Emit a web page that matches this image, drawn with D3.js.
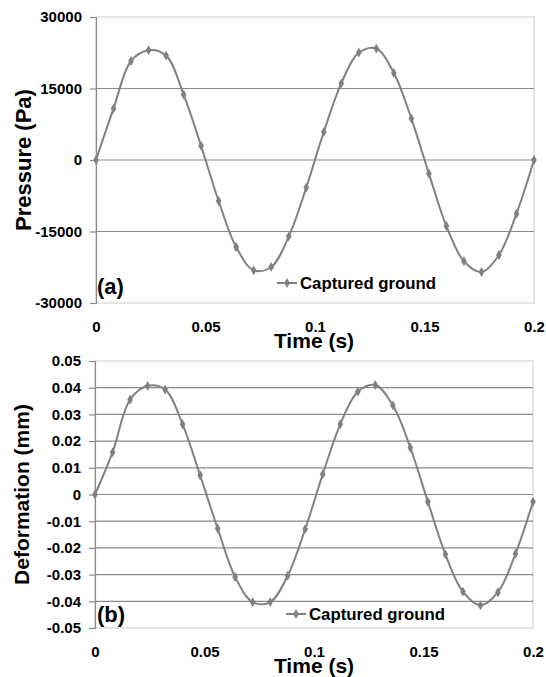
<!DOCTYPE html>
<html>
<head>
<meta charset="utf-8">
<script src="https://cdn.jsdelivr.net/npm/d3@7"></script>
<style>
  body { margin: 0; background: #fff; }
  text { font-family: "Liberation Sans", Arial, sans-serif; font-weight: bold; fill: #000; }
</style>
</head>
<body>
<div id="graph"></div>
<script>
// sample times (s), 26 points
var times = [0, 0.008, 0.016, 0.024, 0.032, 0.04, 0.048, 0.056, 0.064, 0.072, 0.08, 0.088, 0.096,
             0.104, 0.112, 0.12, 0.128, 0.136, 0.144, 0.152, 0.16, 0.168, 0.176, 0.184, 0.192, 0.2];

// (a) pressure in Pa
var pressure = [0, 10780, 20770, 23020, 21900, 13720, 2940, -8600, -18250, -23140, -22450, -16070, -5790,
                5870, 16090, 22530, 23370, 18250, 8690, -2850, -13850, -21250, -23500, -19930, -11250, 0];

// (b) deformation in mm
var deformation = [0, 0.0158, 0.0355, 0.0407, 0.0393, 0.0263, 0.0072, -0.0127, -0.0309, -0.0403, -0.0403, -0.0304, -0.0129,
                   0.0076, 0.0263, 0.0385, 0.0410, 0.0334, 0.0175, -0.0027, -0.0224, -0.0364, -0.0415, -0.0366, -0.0222, -0.0027];

var xTicks = [0, 0.05, 0.1, 0.15, 0.2];
var xTickLabels = ["0", "0.05", "0.1", "0.15", "0.2"];
var pressureTicks = [-30000, -15000, 0, 15000, 30000];
var deformTicks = [-0.05, -0.04, -0.03, -0.02, -0.01, 0, 0.01, 0.02, 0.03, 0.04, 0.05];
var deformTickLabels = ["-0.05", "-0.04", "-0.03", "-0.02", "-0.01", "0", "0.01", "0.02", "0.03", "0.04", "0.05"];
var legendName = "Captured ground";

var lineColor = "#808080";

var svg = d3.select("#graph")
    .append("svg")
    .attr("width", 546)
    .attr("height", 677);

function drawPanel(opt) {
    var x = d3.scaleLinear().domain([0, 0.2]).range([opt.left, opt.right]);
    var y = d3.scaleLinear().domain(opt.domain).range([opt.bottom, opt.top]);
    var g = svg.append("g");

    // plot frame (light)
    g.append("rect")
        .attr("x", opt.left).attr("y", opt.top)
        .attr("width", opt.right - opt.left).attr("height", opt.bottom - opt.top)
        .attr("fill", "none").attr("stroke", "#d4d4d4").attr("stroke-width", 1.2);

    // gridlines (inner ones only)
    var inner = opt.ticks.slice(1, -1);
    g.selectAll(".grid")
        .data(inner)
        .enter().append("line")
        .attr("x1", opt.left).attr("x2", opt.right)
        .attr("y1", function(d) { return y(d); })
        .attr("y2", function(d) { return y(d); })
        .attr("stroke", "#8a8a8a").attr("stroke-width", 1.2);

    // y axis
    var yAxis = g.append("g")
        .attr("transform", "translate(" + opt.left + ",0)")
        .call(d3.axisLeft(y).tickValues(opt.ticks).tickSize(6).tickPadding(8)
            .tickFormat(function(d, i) { return opt.tickLabels[i]; }));
    yAxis.select(".domain").attr("stroke", "#8a8a8a").attr("stroke-width", 1.2);
    yAxis.selectAll(".tick line").attr("stroke", "#8a8a8a").attr("stroke-width", 1.2);
    yAxis.selectAll("text").style("font-size", "15px").style("font-family", "'Liberation Sans', Arial, sans-serif").style("font-weight", "bold").attr("fill", "#000");

    // x axis labels
    var xAxis = g.append("g")
        .attr("transform", "translate(0," + opt.bottom + ")")
        .call(d3.axisBottom(x).tickValues(xTicks).tickSize(0).tickPadding(18)
            .tickFormat(function(d, i) { return xTickLabels[i]; }));
    xAxis.select(".domain").remove();
    xAxis.selectAll("text").style("font-size", "15px").style("font-family", "'Liberation Sans', Arial, sans-serif").style("font-weight", "bold").attr("fill", "#000");

    // line
    var pts = times.map(function(t, i) { return [t, opt.values[i]]; });
    var line = d3.line()
        .x(function(d) { return x(d[0]); })
        .y(function(d) { return y(d[1]); })
        .curve(d3.curveCatmullRom);
    g.append("path")
        .datum(pts)
        .attr("d", line)
        .attr("fill", "none")
        .attr("stroke", lineColor)
        .attr("stroke-width", 2);

    // diamond markers
    g.selectAll(".dot")
        .data(pts)
        .enter().append("path")
        .attr("d", d3.symbol().type(d3.symbolDiamond).size(28))
        .attr("transform", function(d) { return "translate(" + x(d[0]) + "," + y(d[1]) + ")"; })
        .attr("fill", lineColor);

    // axis titles
    g.append("text")
        .attr("transform", "translate(" + opt.yTitleX + "," + ((opt.top + opt.bottom) / 2) + ") rotate(-90)")
        .style("text-anchor", "middle")
        .style("font-size", opt.yTitleSize + "px")
        .text(opt.yTitle);
    g.append("text")
        .attr("x", 314)
        .attr("y", opt.bottom + 45)
        .style("text-anchor", "middle")
        .style("font-size", "21px")
        .text("Time (s)");

    // panel tag
    g.append("text")
        .attr("x", 97)
        .attr("y", opt.tagY)
        .style("font-size", "22px")
        .text(opt.tag);

    // legend
    var lg = g.append("g").attr("transform", "translate(" + opt.legendX + "," + opt.legendY + ")");
    lg.append("line").attr("x1", 0).attr("x2", 20).attr("y1", 0).attr("y2", 0)
        .attr("stroke", lineColor).attr("stroke-width", 2);
    lg.append("path").attr("d", d3.symbol().type(d3.symbolDiamond).size(28)())
        .attr("transform", "translate(10,0)").attr("fill", lineColor);
    lg.append("text").attr("x", 23).attr("dy", "0.35em")
        .style("font-size", "16.8px")
        .text(legendName);
}

drawPanel({
    left: 96, right: 534, top: 17, bottom: 303,
    domain: [-30000, 30000],
    ticks: pressureTicks,
    tickLabels: pressureTicks.map(String),
    values: pressure,
    yTitle: "Pressure (Pa)", yTitleX: 31, yTitleSize: 22,
    tag: "(a)", tagY: 294,
    legendX: 277, legendY: 283
});

drawPanel({
    left: 95, right: 533, top: 361, bottom: 628,
    domain: [-0.05, 0.05],
    ticks: deformTicks,
    tickLabels: deformTickLabels,
    values: deformation,
    yTitle: "Deformation (mm)", yTitleX: 29, yTitleSize: 21,
    tag: "(b)", tagY: 622,
    legendX: 286, legendY: 614
});
</script>
</body>
</html>
